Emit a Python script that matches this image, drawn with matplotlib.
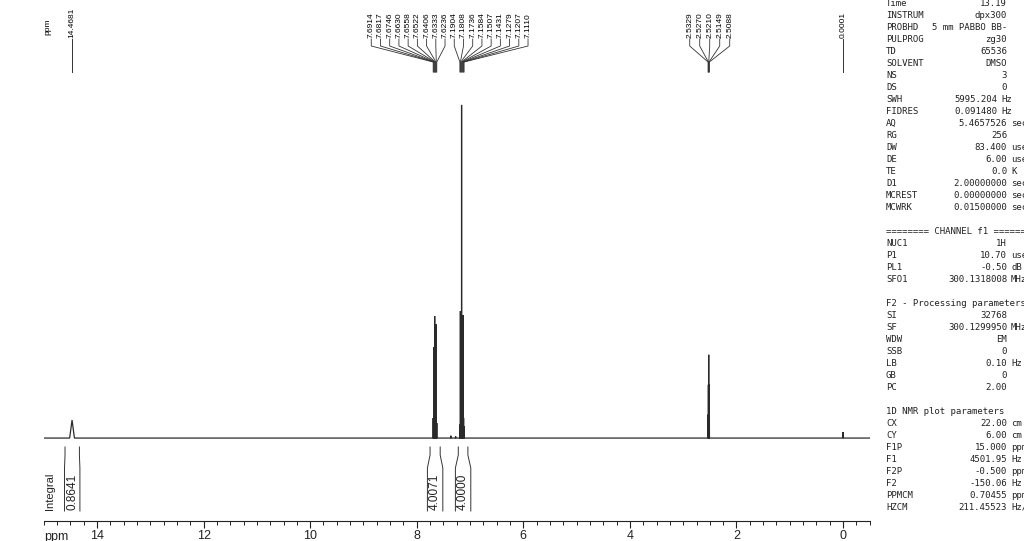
import matplotlib
matplotlib.use('Agg')
import matplotlib.pyplot as plt
import matplotlib.ticker as mticker
import numpy as np

plt.rcParams['font.family'] = ['Liberation Sans', 'DejaVu Sans']

#--- labelled peak lines (ppm), heights in % of the tallest line, half base width (ppm)
peak_ppm = [14.4681,
            7.6914, 7.6817, 7.6746, 7.6630, 7.6558, 7.6522, 7.6406, 7.6333, 7.6236,
            7.1904, 7.1808, 7.1736, 7.1584, 7.1507, 7.1431, 7.1279, 7.1207, 7.1110,
            2.5329, 2.5270, 2.5210, 2.5149, 2.5088,
            0.0001]
peak_height = [5.4,
               6.0, 27.3, 7.5, 36.6, 9.0, 7.0, 34.2, 6.0, 4.5,
               4.0, 38.1, 10.0, 100.0, 30.0, 12.0, 36.9, 6.0, 3.5,
               7.0, 16.0, 25.0, 16.0, 7.0,
               1.8]
peak_halfwidth = [0.045] + [0.0015] * 23 + [0.004]

#--- small unlabelled bumps
minor_ppm = [7.36, 7.27]
minor_height = [0.7, 0.5]

#--- integrals
integral_left = [14.60, 7.75, 7.22]
integral_right = [14.33, 7.56, 7.04]
integral_value = ['0.8641', '4.0071', '4.0000']

#--- acquisition / processing parameters (right panel)
param_names = ['Time', 'INSTRUM', 'PROBHD', 'PULPROG', 'TD', 'SOLVENT', 'NS', 'DS',
               'SWH', 'FIDRES', 'AQ', 'RG', 'DW', 'DE', 'TE', 'D1', 'MCREST', 'MCWRK',
               '', '======== CHANNEL f1 ========', 'NUC1', 'P1', 'PL1', 'SFO1',
               '', 'F2 - Processing parameters', 'SI', 'SF', 'WDW', 'SSB', 'LB', 'GB', 'PC',
               '', '1D NMR plot parameters', 'CX', 'CY', 'F1P', 'F1', 'F2P', 'F2', 'PPMCM', 'HZCM']
param_values = ['13.19', 'dpx300', '5 mm PABBO BB-', 'zg30', '65536', 'DMSO', '3', '0',
                '5995.204', '0.091480', '5.4657526', '256', '83.400', '6.00', '0.0', '2.00000000',
                '0.00000000', '0.01500000',
                '', '', '1H', '10.70', '-0.50', '300.1318008',
                '', '', '32768', '300.1299950', 'EM', '0', '0.10', '0', '2.00',
                '', '', '22.00', '6.00', '15.000', '4501.95', '-0.500', '-150.06', '0.70455', '211.45523']
param_units = ['', '', '', '', '', '', '', '',
               'Hz', 'Hz', 'sec', '', 'usec', 'usec', 'K', 'sec', 'sec', 'sec',
               '', '', '', 'usec', 'dB', 'MHz',
               '', '', '', 'MHz', '', '', 'Hz', '', '',
               '', '', 'cm', 'cm', 'ppm', 'Hz', 'ppm', 'Hz', 'ppm/cm', 'Hz/cm']

x_ticks = [14, 12, 10, 8, 6, 4, 2, 0]


def build_spectrum():
	pk = list(zip(peak_ppm, peak_height, peak_halfwidth))
	pk += [(p, h, 0.004) for p, h in zip(minor_ppm, minor_height)]
	pk.sort(key=lambda t: -t[0])
	xs, ys = [15.0], [0.0]
	for p, h, w in pk:
		xs += [p + w, p, p - w]
		ys += [0.0, h, 0.0]
	xs.append(-0.5)
	ys.append(0.0)
	return xs, ys


def main():
	fig = plt.figure(figsize=(10.24, 5.41), dpi=100)

	#--- pixel overlay (x from left, y from top)
	axp = fig.add_axes([0, 0, 1, 1])
	axp.set_xlim(0, 1024)
	axp.set_ylim(541, 0)
	axp.axis('off')
	axp.patch.set_alpha(0)

	#--- spectrum axes
	ax = fig.add_axes([43.7 / 1024, 20 / 541, 826 / 1024, 521 / 541])
	ax.patch.set_alpha(0)
	ax.set_xlim(15, -0.5)
	ax.set_ylim(-24.9, 131.5)
	xs, ys = build_spectrum()
	ax.plot(xs, ys, color='#2a2a2a', lw=0.9, solid_joinstyle='miter')
	for s in ['top', 'left', 'right']:
		ax.spines[s].set_visible(False)
	ax.spines['bottom'].set_color('#222222')
	ax.spines['bottom'].set_linewidth(0.8)
	ax.set_yticks([])
	ax.set_xticks(x_ticks)
	ax.xaxis.set_minor_locator(mticker.MultipleLocator(0.25))
	ax.tick_params(axis='x', which='major', direction='out', length=5, width=0.8,
	               labelsize=9, pad=1.5, colors='#222222')
	ax.tick_params(axis='x', which='minor', direction='out', length=3, width=0.7, colors='#222222')
	axp.text(44, 537, 'ppm', ha='left', va='center', fontsize=9, color='#222222')

	def to_px(ppm):
		return ax.transData.transform((ppm, 0))[0]

	#--- peak labels with leader lines
	lc = '#333333'
	order = sorted(peak_ppm, reverse=True)
	groups, cur = [], [order[0]]
	for p in order[1:]:
		if to_px(p) - to_px(cur[-1]) < 30:
			cur.append(p)
		else:
			groups.append(cur)
			cur = [p]
	groups.append(cur)
	for g in groups:
		pxs = [to_px(p) for p in g]
		n = len(g)
		if n == 1:
			axp.plot([pxs[0], pxs[0]], [39, 72], color=lc, lw=0.7)
			axp.text(pxs[0], 38, '%.4f' % g[0], rotation=90, ha='center', va='bottom', fontsize=6)
			continue
		sp = min(10.0, 166.0 / n)
		c = (min(pxs) + max(pxs)) / 2 + 1
		for i, (p, x) in enumerate(zip(g, pxs)):
			lx = c + (i - (n - 1) / 2) * sp
			axp.plot([lx, lx, x, x], [39, 46, 62, 72], color=lc, lw=0.6)
			axp.text(lx, 38, '%.4f' % p, rotation=90, ha='center', va='bottom', fontsize=6)
	axp.text(48, 27, 'ppm', rotation=90, ha='center', va='center', fontsize=6)

	#--- integrals
	for l, r, v in zip(integral_left, integral_right, integral_value):
		xl, xr = to_px(l), to_px(r)
		mid = (xl + xr) / 2
		half = max((xr - xl) / 2, 7.7)
		for x0, x1 in [(xl, mid - half), (xr, mid + half)]:
			axp.plot([x0, x0, x1, x1], [447, 455, 468, 511], color=lc, lw=0.7)
		axp.text(mid, 510, v, rotation=90, ha='center', va='bottom', fontsize=8.5, color='#222222')
	axp.text(50, 510, 'Integral', rotation=90, ha='center', va='bottom', fontsize=8, color='#222222')

	#--- parameter panel (units run off the right edge as on the original plot)
	for i, (nm, val, un) in enumerate(zip(param_names, param_values, param_units)):
		y = 3 + 12.0 * i
		kw = dict(fontsize=6.5, family='DejaVu Sans Mono', va='center', color='#222222')
		shift = -10 if nm in ('SWH', 'FIDRES') else 0
		axp.text(886, y, nm, ha='left', **kw)
		if val:
			axp.text(1007 + shift, y, val, ha='right', **kw)
		if un:
			axp.text(1011 + shift, y, un, ha='left', **kw)

	fig.savefig('out.png', dpi=100)
	plt.close(fig)


if __name__ == "__main__":
	main()
